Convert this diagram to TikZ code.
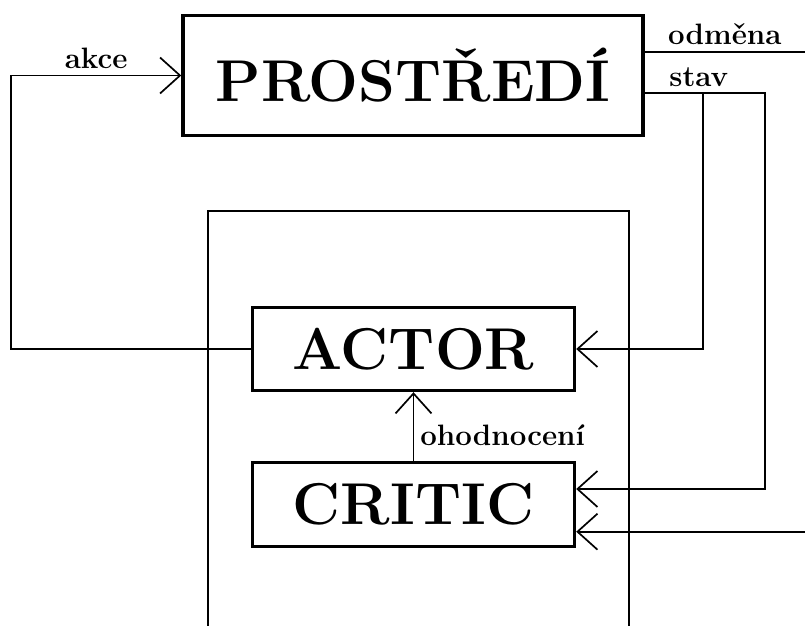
\documentclass[tikz,border=0pt]{standalone}
\usepackage{fontspec}
\usepackage{tikz}
\usetikzlibrary{arrows.meta}
\tikzset{blok/.style={draw,line width=1.7pt,inner sep=0pt,font=\fontsize{29.5}{35}\selectfont\bfseries},
         popis/.style={inner sep=3pt,font=\fontsize{14.75}{17}\selectfont\bfseries}}

\begin{document}
\begin{tikzpicture}[>={Straight Barb[length=10pt,width=18pt]},x=0.5pt,y=-0.5pt,line width=0.85pt]
        \useasboundingbox (0,0) rectangle (805,626);

        \node[blok,minimum width=230pt,minimum height=60pt] (env) at (413,75.5) {PROSTŘEDÍ};
        \node[blok,minimum width=161pt,minimum height=41.5pt] (actor) at (413.5,349) {ACTOR};
        \node[blok,minimum width=161pt,minimum height=42pt] (critic) at (413.5,504.5) {CRITIC};

        % agent
        \draw (208,626) |- (629,211) -- (629,626);

        \coordinate (lh) at (11,75.5);
        \coordinate (odm) at (805,51.7);
        \coordinate (s1) at (765,93.3);
        \coordinate (s2) at (765,489);
        \coordinate (s3) at (703,93.3);
        \coordinate (r1) at (805,531.7);

        \draw [->] (actor.west) -| (lh) to []node[popis,above]{akce} (env.west);
        \draw [] (env.east |- odm) to []node[popis,above]{odměna} (odm);
        \draw [->] (env.east |- s1) to []node[popis,above,pos=0.45]{stav} (s1) -- (s2) -- (critic.east |- s2);
        \draw [->] (s3) |- (actor.east);
        \draw [->] (r1) -- (critic.east |- r1);
        \draw [->] (critic.north) to []node[popis,right,pos=0.37]{ohodnocení} (actor.south);
    \end{tikzpicture}
\end{document}
